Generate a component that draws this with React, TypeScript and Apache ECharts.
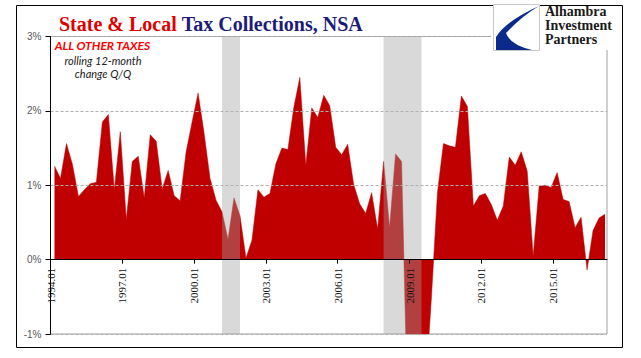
import React, { useEffect, useRef } from "react";
import * as echarts from "echarts";

// Quarterly observations, first point 1994.03 (quarter-end months), last 2017.03
const startYear = 1994;
const firstMonth = 2; // March of start year, months counted from Jan 1994
const stepMonths = 3;
const values: number[] = [
  1.26, 1.09, 1.56, 1.28, 0.85, 0.94, 1.02, 1.04, 1.85, 1.95,
  0.94, 1.72, 0.54, 1.32, 1.39, 0.83, 1.68, 1.59, 0.95, 1.2,
  0.86, 0.79, 1.45, 1.85, 2.24, 1.7, 1.09, 0.8, 0.64, 0.27,
  0.83, 0.59, 0.02, 0.26, 0.94, 0.84, 0.89, 1.29, 1.5, 1.48,
  2.05, 2.45, 1.27, 2.04, 1.91, 2.21, 2.07, 1.51, 1.41, 1.55,
  1.01, 0.75, 0.62, 0.9, 0.41, 1.32, 0.43, 1.42, 1.32, -2.0,
  -2.8, -2.5, -1.75, -0.5, 0.9, 1.56, 1.53, 1.51, 2.2, 2.06,
  0.72, 0.86, 0.89, 0.74, 0.53, 0.72, 1.38, 1.27, 1.45, 1.19,
  0.05, 0.99, 1.0, 0.97, 1.17, 0.81, 0.78, 0.43, 0.57, -0.14,
  0.39, 0.56, 0.61,
];
const recessionStart = ["2001.03", "2007.12"];
const recessionEnd = ["2001.12", "2009.07"];
const xTickLabels = ["1994.01", "1997.01", "2000.01", "2003.01", "2006.01", "2009.01", "2012.01", "2015.01"];
const xAxisEnd = "2017.04";
const yTicks = [-1, 0, 1, 2, 3];

const toMonths = (label: string) => {
  const [y, m] = label.split(".").map(Number);
  return (y - startYear) * 12 + (m - 1);
};

const GRID_H = 297.5;
const LOGO_D = "M45 1 Q12 16 2 32 L2 45 L38 45 Q16 40 12 28 Q28 11 45 1 Z";
let registered = false;

export default function App() {
  const ref = useRef<HTMLDivElement>(null);
  useEffect(() => {
    if (!ref.current) return;
    if (!registered) {
      echarts.graphic.registerShape("aipLogo", echarts.graphic.extendPath(LOGO_D, {}));
      registered = true;
    }
    const chart = echarts.init(ref.current, undefined, { renderer: "svg" });
    const seriesData = values.map((v, i) => [firstMonth + i * stepMonths, v]);
    const tickMonths = xTickLabels.map(toMonths);
    const bands = recessionStart.map((s, i) => [
      { xAxis: toMonths(s) },
      { xAxis: toMonths(recessionEnd[i]) },
    ]);
    const yMin = yTicks[0];
    const yMax = yTicks[yTicks.length - 1];
    // move the date axis up to the zero line
    const zeroOffset = -GRID_H * (0 - yMin) / (yMax - yMin);
    chart.setOption({
      animation: false,
      backgroundColor: "#ffffff",
      title: {
        text: "{a|State & Local} {b|Tax Collections, NSA}",
        left: 54,
        top: 9,
        textStyle: {
          rich: {
            a: { fontFamily: "Liberation Serif", fontSize: 20, fontWeight: "bold", color: "#e00000" },
            b: { fontFamily: "Liberation Serif", fontSize: 20, color: "#1c1c78" },
          },
        },
      },
      grid: {
        left: 50.5,
        top: 36.5,
        width: 556.5,
        height: GRID_H,
        show: true,
        borderColor: "#a0a0a0",
        borderWidth: 1,
        containLabel: false,
        outerBoundsMode: "none",
      },
      xAxis: {
        type: "value",
        position: "bottom",
        offset: zeroOffset,
        z: 20,
        min: 0,
        max: toMonths(xAxisEnd),
        interval: 36,
        axisLine: { show: true, onZero: false, lineStyle: { color: "#000", width: 1 } },
        axisTick: { show: true, length: 4, customValues: tickMonths, lineStyle: { color: "#000" } },
        axisLabel: {
          customValues: tickMonths,
          rotate: 90,
          margin: 8,
          fontFamily: "Liberation Serif",
          fontSize: 11,
          color: "#111",
          formatter: (v: number) => xTickLabels[tickMonths.indexOf(v)] ?? "",
        },
        splitLine: { show: false },
      },
      yAxis: {
        type: "value",
        min: yMin,
        max: yMax,
        interval: 1,
        z: 20,
        axisLine: { show: true, onZero: false, lineStyle: { color: "#000", width: 1 } },
        axisTick: { show: true, length: 5, lineStyle: { color: "#000" } },
        axisLabel: {
          margin: 9,
          fontFamily: "Liberation Sans",
          fontSize: 10,
          color: "#595959",
          formatter: (v: number) => v + "%",
        },
        splitLine: { show: true, lineStyle: { color: "#b0b0b0", type: [3, 2], width: 1 } },
      },
      series: [
        {
          type: "line",
          data: seriesData,
          showSymbol: false,
          symbol: "none",
          lineStyle: { width: 0.5, color: "#c00000" },
          areaStyle: { color: "#c00000", opacity: 1 },
          itemStyle: { color: "#c00000" },
          clip: true,
          z: 2,
        },
        {
          type: "line",
          data: [],
          z: 5,
          markArea: {
            silent: true,
            z: 10,
            itemStyle: { color: "#a0a0a0", opacity: 0.4 },
            data: bands,
          },
        },
      ],
      graphic: {
        elements: [
          {
            type: "rect",
            z: 100,
            shape: { x: 16.5, y: 5.5, width: 606, height: 342 },
            style: { fill: "none", stroke: "#000", lineWidth: 1 },
          },
          {
            type: "rect",
            z: 100,
            shape: { x: 491, y: 8, width: 125, height: 42 },
            style: { fill: "#fff" },
          },
          {
            type: "rect",
            z: 101,
            shape: { x: 493.5, y: 4.5, width: 46, height: 46 },
            style: { fill: "#fff", stroke: "#c8c8c8", lineWidth: 1 },
          },
          {
            type: "aipLogo",
            z: 102,
            x: 494,
            y: 5,
            scaleX: 1,
            scaleY: 1,
            style: { fill: "#0b2a8c" },
          },
          {
            type: "text",
            z: 102,
            x: 545,
            y: 4,
            style: {
              text: "Alhambra\nInvestment\nPartners",
              fontFamily: "Liberation Serif",
              fontSize: 14,
              fontWeight: "bold",
              lineHeight: 14,
              fill: "#1a1a1a",
            },
          },
          {
            type: "text",
            z: 102,
            x: 102.5,
            y: 45,
            style: {
              text: "ALL OTHER TAXES",
              fontFamily: "Lato",
              fontSize: 12,
              fontStyle: "italic",
              fontWeight: "bold",
              fill: "#ff0000",
              textAlign: "center",
              textVerticalAlign: "middle",
            },
          },
          {
            type: "text",
            z: 102,
            x: 103,
            y: 60,
            style: {
              text: "rolling 12-month",
              fontFamily: "Lato",
              fontSize: 11,
              fontStyle: "italic",
              fill: "#222",
              textAlign: "center",
              textVerticalAlign: "middle",
            },
          },
          {
            type: "text",
            z: 102,
            x: 103,
            y: 73,
            style: {
              text: "change Q/Q",
              fontFamily: "Lato",
              fontSize: 11,
              fontStyle: "italic",
              fill: "#222",
              textAlign: "center",
              textVerticalAlign: "middle",
            },
          },
        ],
      },
    });
    return () => chart.dispose();
  }, []);
  return (
    <div
      ref={ref}
      style={{ position: "fixed", left: 0, top: 0, width: 641, height: 358, background: "#fff" }}
    />
  );
}
